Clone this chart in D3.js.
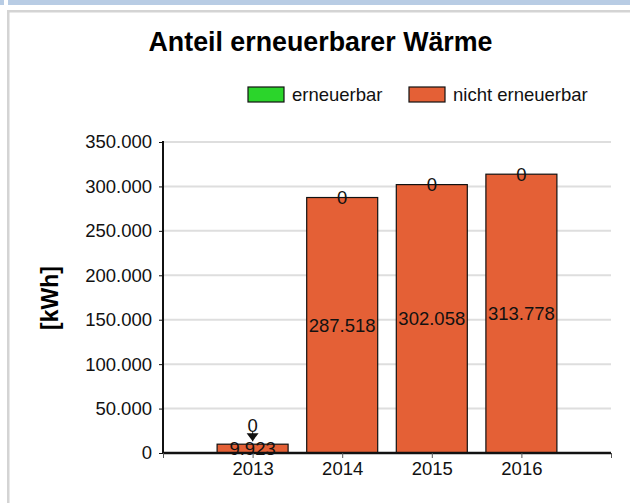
<!DOCTYPE html>
<html lang="de">
<head>
<meta charset="UTF-8">
<title>Anteil erneuerbarer Wärme</title>
<script src="https://d3js.org/d3.v7.min.js"></script>
<style>
  * { margin: 0; padding: 0; }
  body { background: #fff; width: 630px; height: 503px; overflow: hidden; }
  svg { display: block; font-family: 'Liberation Sans', Arial, sans-serif; }
</style>
</head>
<body>
<svg id="chart" width="630" height="503"></svg>
<script>
// Daten
const years = ["2013", "2014", "2015", "2016"];
const erneuerbar = [0, 0, 0, 0];
const nichtErneuerbar = [9923, 287518, 302058, 313778];
const seriesNames = ["erneuerbar", "nicht erneuerbar"];
const seriesColors = ["#2bd52b", "#e46036"];
const yTicks = [0, 50000, 100000, 150000, 200000, 250000, 300000, 350000];

const svg = d3.select("#chart");
const fmt = d3.formatLocale({ decimal: ",", thousands: ".", grouping: [3], currency: ["", "€"] }).format(",.0f");
const fs = "18.5px";

// Rahmen der Seite
svg.append("rect").attr("x", 0).attr("y", 0).attr("width", 4).attr("height", 5).attr("fill", "#b8cce4");
svg.append("rect").attr("x", 8).attr("y", 0).attr("width", 622).attr("height", 5).attr("fill", "#b8cce4");
svg.append("rect").attr("x", 7).attr("y", 10).attr("width", 623).attr("height", 2.5).attr("fill", "#d4d4d4");
svg.append("rect").attr("x", 7).attr("y", 10).attr("width", 2.5).attr("height", 493).attr("fill", "#d4d4d4");

const plotLeft = 163, plotRight = 611, plotTop = 142, plotBottom = 453;

const x = d3.scaleLinear().domain([0, years.length + 1]).range([plotLeft, plotRight]);
const y = d3.scaleLinear().domain([0, 350000]).range([plotBottom, plotTop]);
const barW = 71;

// Titel
svg.append("text")
    .attr("x", 320.5).attr("y", 51)
    .attr("text-anchor", "middle")
    .attr("font-size", "26.8px").attr("font-weight", "bold")
    .text("Anteil erneuerbarer Wärme");

// Legende
const legendX = [248, 409];
seriesNames.forEach((name, i) => {
    svg.append("rect")
        .attr("x", legendX[i]).attr("y", 87)
        .attr("width", 36).attr("height", 15)
        .attr("fill", seriesColors[i]).attr("stroke", "#111").attr("stroke-width", 1.2);
    svg.append("text")
        .attr("x", legendX[i] + 44).attr("y", 101)
        .attr("font-size", fs).attr("fill", "#111")
        .text(name);
});

// Gitterlinien
svg.append("g").selectAll("line")
    .data(yTicks.filter(d => d > 0))
    .join("line")
    .attr("x1", plotLeft).attr("x2", plotRight)
    .attr("y1", d => y(d)).attr("y2", d => y(d))
    .attr("stroke", "#dedede").attr("stroke-width", 2);

// Y-Achse
const yAxis = svg.append("g")
    .attr("transform", `translate(${plotLeft},0)`)
    .call(d3.axisLeft(y).tickValues(yTicks).tickFormat(fmt).tickSize(4).tickPadding(7));
yAxis.select(".domain").attr("stroke", "#111").attr("stroke-width", 2).attr("d", `M0,${plotTop - 1}V${plotBottom}`);
yAxis.selectAll(".tick line").attr("stroke", "#111");
yAxis.selectAll(".tick text").attr("font-size", fs).attr("fill", "#111").attr("font-family", "'Liberation Sans', Arial, sans-serif");

svg.append("text")
    .attr("transform", "translate(58,298) rotate(-90)")
    .attr("text-anchor", "middle")
    .attr("font-size", "23px").attr("font-weight", "bold")
    .text("[kWh]");

// Balken
const stacked = years.map((yr, i) => ({ year: yr, i: i + 1, ern: erneuerbar[i], nicht: nichtErneuerbar[i] }));

const bars = svg.append("g");
bars.selectAll("rect.nicht")
    .data(stacked)
    .join("rect")
    .attr("class", "nicht")
    .attr("x", d => x(d.i) - barW / 2)
    .attr("y", d => y(d.ern + d.nicht))
    .attr("width", barW)
    .attr("height", d => y(d.ern) - y(d.ern + d.nicht))
    .attr("fill", seriesColors[1]).attr("stroke", "#111").attr("stroke-width", 1.2);

// X-Achse
const xAxis = svg.append("g")
    .attr("transform", `translate(0,${plotBottom})`)
    .call(d3.axisBottom(x).tickValues(d3.range(0, years.length + 2))
        .tickFormat(i => years[i - 1] || "").tickSize(5).tickPadding(4));
xAxis.select(".domain").attr("stroke", "#111").attr("stroke-width", 2.5).attr("d", `M${plotLeft},0H${plotRight}`);
xAxis.selectAll(".tick line").attr("stroke", "#555");
xAxis.selectAll(".tick text").attr("font-size", fs).attr("fill", "#111").attr("font-family", "'Liberation Sans', Arial, sans-serif");

// Werte der nicht erneuerbaren Wärme (Mitte des Balkens)
svg.append("g").selectAll("text")
    .data(stacked)
    .join("text")
    .attr("x", d => x(d.i))
    .attr("y", d => (y(d.ern) + y(d.ern + d.nicht)) / 2)
    .attr("dy", "0.36em")
    .attr("text-anchor", "middle")
    .attr("font-size", fs).attr("fill", "#111")
    .text(d => fmt(d.nicht));

// Werte der erneuerbaren Wärme (oben am Balken, bei kurzen Balken verschoben mit Pfeil)
const labelG = svg.append("g");
stacked.forEach(d => {
    const yTop = y(d.ern + d.nicht);
    const short = (plotBottom - yTop) < 30;
    const ly = short ? yTop - 19 : yTop;
    labelG.append("text")
        .attr("x", x(d.i)).attr("y", ly)
        .attr("dy", "0.36em")
        .attr("text-anchor", "middle")
        .attr("font-size", fs).attr("fill", "#111")
        .text(fmt(d.ern));
    if (short) {
        const cx = x(d.i);
        labelG.append("line")
            .attr("x1", cx).attr("x2", cx)
            .attr("y1", ly + 7).attr("y2", yTop - 3)
            .attr("stroke", "#111").attr("stroke-width", 1.2);
        labelG.append("path")
            .attr("d", `M${cx - 6},${yTop - 11}H${cx + 6}L${cx},${yTop - 3}Z`)
            .attr("fill", "#111");
    }
});
</script>
</body>
</html>
